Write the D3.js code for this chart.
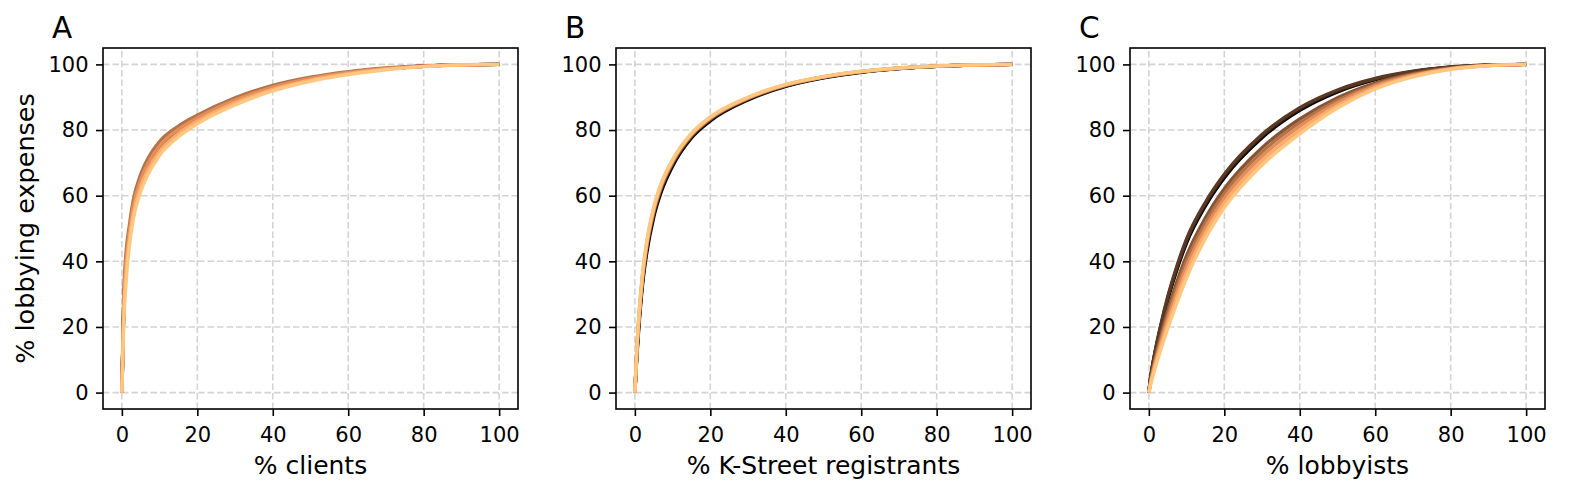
<!DOCTYPE html>
<html>
<head>
<meta charset="utf-8">
<script src="https://cdn.jsdelivr.net/npm/d3@7"></script>
<style>
  body { margin: 0; background: #fff; }
  svg { display: block; font-family: "DejaVu Sans", sans-serif; }
</style>
</head>
<body>
<div id="chart"></div>
<script>
// Lorenz-style concentration curves, one row per year (darkest colour first)

// x positions shared by every curve (% of population)
const xPct = [0, 0.5, 1, 2, 3, 5, 7, 10, 15, 20, 30, 40, 50, 60, 70, 80, 90, 100]
const tickVals = [0, 20, 40, 60, 80, 100]
const panelLetters = ['A', 'B', 'C']
const xTitles = ['% clients', '% K-Street registrants', '% lobbyists']
const yTitle = '% lobbying expenses'

// panel A: clients
const clientCurves = [
  [0, 26.2, 36.9, 48.22, 55.87, 64.16, 69.3, 74.6, 79.74, 83.33, 88.83, 92.84, 95.54, 97.39, 98.67, 99.45, 99.87, 100],
  [0, 26.62, 37.36, 48.53, 56.16, 64.42, 69.55, 74.81, 79.9, 83.46, 88.94, 92.92, 95.6, 97.44, 98.69, 99.46, 99.87, 100],
  [0, 25.35, 35.99, 47.6, 55.28, 63.64, 68.82, 74.17, 79.41, 83.07, 88.62, 92.67, 95.42, 97.3, 98.61, 99.42, 99.86, 100],
  [0, 25.77, 36.45, 47.91, 55.57, 63.9, 69.06, 74.38, 79.57, 83.2, 88.72, 92.75, 95.48, 97.34, 98.64, 99.43, 99.86, 100],
  [0, 30, 41, 51, 58.5, 66.5, 71.5, 76.5, 81.2, 84.5, 89.8, 93.6, 96.1, 97.8, 98.9, 99.55, 99.9, 100],
  [0, 27.46, 38.27, 49.15, 56.74, 64.94, 70.04, 75.23, 80.22, 83.72, 89.15, 93.09, 95.73, 97.53, 98.74, 99.48, 99.88, 100],
  [0, 24.08, 34.63, 46.67, 54.4, 62.86, 68.08, 73.54, 78.92, 82.68, 88.29, 92.42, 95.23, 97.16, 98.54, 99.39, 99.85, 100],
  [0, 21.55, 31.9, 44.82, 52.65, 61.3, 66.62, 72.27, 77.95, 81.9, 87.65, 91.91, 94.86, 96.89, 98.38, 99.32, 99.83, 100]
]

// panel B: K-Street registrants
const registrantCurves = [
  [0, 10.5, 19, 32.5, 41.5, 53.5, 61.2, 69, 77.6, 82.8, 89.2, 93.3, 95.9, 97.6, 98.7, 99.4, 99.8, 100],
  [0, 11.25, 20.05, 33.55, 42.55, 54.4, 61.98, 69.6, 78.02, 83.16, 89.44, 93.48, 96.02, 97.69, 98.76, 99.43, 99.82, 100],
  [0, 11.63, 20.58, 34.08, 43.08, 54.85, 62.37, 69.9, 78.23, 83.34, 89.56, 93.57, 96.08, 97.74, 98.79, 99.45, 99.82, 100],
  [0, 11.88, 20.93, 34.43, 43.43, 55.15, 62.63, 70.1, 78.37, 83.46, 89.64, 93.63, 96.12, 97.77, 98.81, 99.46, 99.83, 100],
  [0, 12.13, 21.28, 34.78, 43.78, 55.45, 62.89, 70.3, 78.51, 83.58, 89.72, 93.69, 96.16, 97.8, 98.83, 99.47, 99.83, 100],
  [0, 12.38, 21.63, 35.13, 44.13, 55.75, 63.15, 70.5, 78.65, 83.7, 89.8, 93.75, 96.2, 97.83, 98.85, 99.48, 99.84, 100],
  [0, 12.7, 22.08, 35.58, 44.58, 56.14, 63.49, 70.76, 78.83, 83.86, 89.9, 93.83, 96.25, 97.86, 98.88, 99.49, 99.84, 100],
  [0, 13, 22.5, 36, 45, 56.5, 63.8, 71, 79, 84, 90, 93.9, 96.3, 97.9, 98.9, 99.5, 99.85, 100]
]

// panel C: lobbyists
const lobbyistCurves = [
  [0, 4.76, 8.13, 13.93, 19.07, 28.23, 35.9, 45.62, 56.9, 65.48, 77.67, 86, 91.65, 95.38, 97.73, 99.13, 99.78, 100],
  [0, 4.88, 8.32, 14.22, 19.44, 28.72, 36.45, 46.21, 57.45, 65.99, 78.14, 86.4, 91.93, 95.54, 97.82, 99.17, 99.79, 100],
  [0, 5, 8.5, 14.5, 19.8, 29.2, 37, 46.8, 58, 66.5, 78.6, 86.8, 92.2, 95.7, 97.9, 99.2, 99.8, 100],
  [0, 3.97, 6.91, 12.05, 16.66, 25.03, 32.27, 41.73, 53.27, 62.11, 74.6, 83.36, 89.83, 94.32, 97.17, 98.9, 99.71, 100],
  [0, 3.63, 6.39, 11.25, 15.64, 23.67, 30.73, 40.07, 51.73, 60.69, 73.3, 82.24, 89.06, 93.88, 96.93, 98.8, 99.69, 100],
  [0, 3.3, 5.87, 10.45, 14.62, 22.31, 29.19, 38.42, 50.19, 59.26, 72, 81.12, 88.29, 93.43, 96.69, 98.7, 99.66, 100],
  [0, 2.95, 5.34, 9.63, 13.56, 20.91, 27.59, 36.71, 48.59, 57.78, 70.65, 79.96, 87.5, 92.96, 96.45, 98.6, 99.63, 100],
  [0, 2.6, 4.8, 8.8, 12.5, 19.5, 26, 35, 47, 56.3, 69.3, 78.8, 86.7, 92.5, 96.2, 98.5, 99.6, 100]
]

const allCurves = [clientCurves, registrantCurves, lobbyistCurves]

// layout
var width = 1578
var height = 496
var boxLeft = [103, 616, 1130]
var boxTop = 48
var boxW = 415
var boxH = 361

// matplotlib "copper"
const copper = t => d3.rgb(255 * Math.min(1, t / 0.809524), 255 * 0.7812 * t, 255 * 0.4975 * t).toString()

const svg = d3.select('#chart')
  .append('svg')
  .attr('width', width)
  .attr('height', height)

allCurves.forEach((curves, p) => {
  const g = svg.append('g')
    .attr('transform', `translate(${boxLeft[p]}, ${boxTop})`)

  const xScale = d3.scaleLinear().domain([-5, 105]).range([0, boxW])
  const yScale = d3.scaleLinear().domain([-5, 105]).range([boxH, 0])

  // dashed grid
  g.append('g').selectAll('line')
    .data(tickVals)
    .join('line')
    .attr('x1', d => xScale(d)).attr('x2', d => xScale(d))
    .attr('y1', boxH).attr('y2', 0)
    .attr('stroke', '#d4d4d4').attr('stroke-width', 1.6)
    .attr('stroke-dasharray', '6.5,3')

  g.append('g').selectAll('line')
    .data(tickVals)
    .join('line')
    .attr('y1', d => yScale(d)).attr('y2', d => yScale(d))
    .attr('x1', 0).attr('x2', boxW)
    .attr('stroke', '#d4d4d4').attr('stroke-width', 1.6)
    .attr('stroke-dasharray', '6.5,3')

  // curves
  const line = d3.line()
    .x((d, i) => xScale(xPct[i]))
    .y(d => yScale(d))
    .curve(d3.curveMonotoneX)

  g.append('g').selectAll('path')
    .data(curves)
    .join('path')
    .attr('d', line)
    .attr('fill', 'none')
    .attr('stroke', (d, i) => copper(i / (curves.length - 1)))
    .attr('stroke-width', 3.4)
    .attr('stroke-linejoin', 'round')

  // axes
  const xAxis = d3.axisBottom(xScale).tickValues(tickVals).tickSize(7).tickPadding(11)
  const yAxis = d3.axisLeft(yScale).tickValues(tickVals).tickSize(7).tickPadding(7.5)

  const gx = g.append('g')
    .attr('transform', `translate(0, ${boxH})`)
    .call(xAxis)
  const gy = g.append('g').call(yAxis)

  ;[gx, gy].forEach(a => {
    a.select('.domain').remove()
    a.selectAll('line').attr('stroke', '#000').attr('stroke-width', 1.6)
    a.selectAll('text')
      .attr('fill', '#000')
      .attr('font-size', '21px')
      .attr('font-family', '"DejaVu Sans", sans-serif')
  })

  // frame
  g.append('rect')
    .attr('x', 0).attr('y', 0)
    .attr('width', boxW).attr('height', boxH)
    .attr('fill', 'none')
    .attr('stroke', '#000')
    .attr('stroke-width', 1.6)

  // x title
  g.append('text')
    .attr('x', boxW / 2)
    .attr('y', 474 - boxTop)
    .attr('text-anchor', 'middle')
    .attr('font-size', '25px')
    .text(xTitles[p])

  // panel letter
  g.append('text')
    .attr('x', -51)
    .attr('y', 38 - boxTop)
    .attr('font-size', '29.5px')
    .text(panelLetters[p])

  if (p === 0) {
    g.append('text')
      .attr('transform', `translate(${33.5 - boxLeft[0]}, ${boxH / 2}) rotate(-90)`)
      .attr('text-anchor', 'middle')
      .attr('font-size', '25.5px')
      .text(yTitle)
  }
})
</script>
</body>
</html>
